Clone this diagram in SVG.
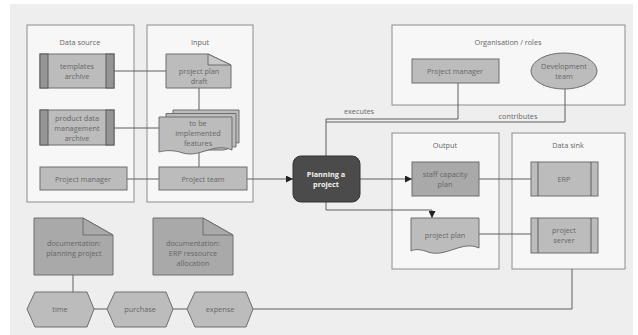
<svg xmlns="http://www.w3.org/2000/svg" width="638" height="335" viewBox="0 0 638 335">
<defs>
<style>
.bg{fill:#eeeeee}
.ct{fill:#f7f7f7;stroke:#8c8c8c;stroke-width:1}
.n{fill:#bcbcbc;stroke:#6e6e6e;stroke-width:1}
.nd{fill:#a9a9a9;stroke:#6e6e6e;stroke-width:1}
.bar{fill:#959595;stroke:#5a5a5a;stroke-width:1}
.fold{fill:#c9c9c9;stroke:#6e6e6e;stroke-width:1}
.c{fill:none;stroke:#5e5e5e;stroke-width:1}
text{font-family:"Open Sans","Liberation Sans",sans-serif;font-size:7.3px;fill:#666;text-anchor:middle;dominant-baseline:central}
.t{font-weight:bold;fill:#f2f2f2}
</style>
<marker id="ar" viewBox="0 0 8 8" refX="8" refY="4" markerWidth="7" markerHeight="7" orient="auto" markerUnits="userSpaceOnUse">
<path d="M0,0 L8,4 L0,8 Z" fill="#222"/>
</marker>
</defs>
<rect x="10" y="4" width="623" height="331" class="bg"/>

<g id="containers">
<g id="data-source"><rect class="ct" x="27" y="25" width="107" height="177"/><text x="80" y="42">Data source</text></g>
<g id="input"><rect class="ct" x="147" y="25" width="106" height="177"/><text x="200" y="42">Input</text></g>
<g id="organisation"><rect class="ct" x="392" y="25" width="233" height="80"/><text x="508" y="42">Organisation / roles</text></g>
<g id="output"><rect class="ct" x="392" y="133" width="107" height="136"/><text x="445" y="145">Output</text></g>
<g id="data-sink"><rect class="ct" x="512" y="133" width="113" height="136"/><text x="568" y="145">Data sink</text></g>
</g>

<g id="connectors">
<path class="c" d="M114,71 H166"/>
<path class="c" d="M114,128 H159"/>
<path class="c" d="M127,179 H159"/>
<path class="c" d="M199,88 V110"/>
<path class="c" d="M199,153 V167"/>
<path class="c" d="M247,179 H293" marker-end="url(#ar)"/>
<path class="c" d="M360,179 H412" marker-end="url(#ar)"/>
<path class="c" d="M479,179 H531"/>
<path class="c" d="M479,234 H531"/>
<path class="c" d="M326,202 V210 H432 V218" marker-end="url(#ar)"/>
<path class="c" d="M458,83 V119 H326 V156"/>
<path class="c" d="M565,89 V122 H326"/>
<path class="c" d="M572,269 V309 H253"/>
<path class="c" d="M94,309 H107"/>
<path class="c" d="M173,309 H187"/>
<path class="c" d="M73,275 V292"/>
<text x="359" y="111">executes</text>
<text x="518" y="116">contributes</text>
</g>

<g id="templates-archive">
<rect class="n" x="40" y="54" width="74" height="34"/>
<rect class="bar" x="40" y="54" width="8" height="34"/><rect class="bar" x="106" y="54" width="8" height="34"/>
<text x="77" y="66">templates</text><text x="77" y="76">archive</text>
</g>
<g id="product-data-archive">
<rect class="n" x="40" y="110" width="74" height="35"/>
<rect class="bar" x="40" y="110" width="8" height="35"/><rect class="bar" x="106" y="110" width="8" height="35"/>
<text x="77" y="117.5">product data</text><text x="77" y="127.5">management</text><text x="77" y="137.5">archive</text>
</g>
<g id="project-manager-src">
<rect class="n" x="40" y="167" width="87" height="23"/>
<text x="83" y="179">Project manager</text>
</g>

<g id="project-plan-draft">
<path class="n" d="M166,54 H208 L231,65 V88 H166 Z"/>
<path class="fold" d="M208,54 V65 H231 Z"/>
<text x="199" y="71">project plan</text><text x="199" y="81">draft</text>
</g>
<g id="features">
<path class="n" d="M173,110 H239 V143 C232,142 232,146 226,146 H173 Z"/>
<path class="n" d="M166,113.5 H236 V147 C229,146 229,150 222,150 H166 Z"/>
<path class="n" d="M159,117 H232 V150 C214,142 200,158 183,153 C174,150 166,150 159,152 Z"/>
<text x="198" y="123">to be</text><text x="198" y="133">implemented</text><text x="198" y="143">features</text>
</g>
<g id="project-team">
<rect class="n" x="159" y="167" width="88" height="23"/>
<text x="203" y="179">Project team</text>
</g>

<g id="planning">
<rect x="293" y="156" width="67" height="46" rx="8" ry="8" fill="#4b4b4b" stroke="#333"/>
<text class="t" x="326" y="174">Planning a</text><text class="t" x="326" y="184">project</text>
</g>

<g id="project-manager-org">
<rect class="n" x="412" y="59" width="87" height="24"/>
<text x="455" y="71">Project manager</text>
</g>
<g id="development-team">
<ellipse class="n" cx="564" cy="71" rx="33" ry="18"/>
<text x="564" y="66">Development</text><text x="564" y="76">team</text>
</g>

<g id="staff-capacity-plan">
<rect class="nd" x="412" y="162" width="67" height="34"/>
<text x="445" y="174">staff capacity</text><text x="445" y="184">plan</text>
</g>
<g id="project-plan">
<path class="n" d="M411,218 H479 V248 C462,240 446,258 428,252 C420,249 415,249 411,251 Z"/>
<text x="445" y="235">project plan</text>
</g>
<g id="erp">
<rect class="n" x="531" y="162" width="67" height="34"/>
<path class="c" d="M538,162 V196 M591,162 V196"/>
<text x="564" y="179">ERP</text>
</g>
<g id="project-server">
<rect class="n" x="531" y="218" width="67" height="35"/>
<path class="c" d="M538,218 V253 M591,218 V253"/>
<text x="564" y="230">project</text><text x="564" y="240">server</text>
</g>

<g id="doc-planning-project">
<path class="nd" d="M34,218 H83 L113,235 V275 H34 Z"/>
<path class="nd" d="M83,218 V235 H113 Z"/>
<text x="74" y="243">documentation:</text><text x="74" y="253">planning project</text>
</g>
<g id="doc-erp">
<path class="nd" d="M153,218 H203 L233,235 V275 H153 Z"/>
<path class="nd" d="M203,218 V235 H233 Z"/>
<text x="193" y="243">documentation:</text><text x="193" y="253">ERP ressource</text><text x="193" y="263">allocation</text>
</g>

<g id="time">
<path class="n" d="M27,309 L35,292 H87 L94,309 L87,327 H35 Z"/>
<text x="60" y="309">time</text>
</g>
<g id="purchase">
<path class="n" d="M107,309 L115,292 H166 L173,309 L166,327 H115 Z"/>
<text x="140" y="309">purchase</text>
</g>
<g id="expense">
<path class="n" d="M187,309 L195,292 H246 L253,309 L246,327 H195 Z"/>
<text x="220" y="309">expense</text>
</g>
</svg>
